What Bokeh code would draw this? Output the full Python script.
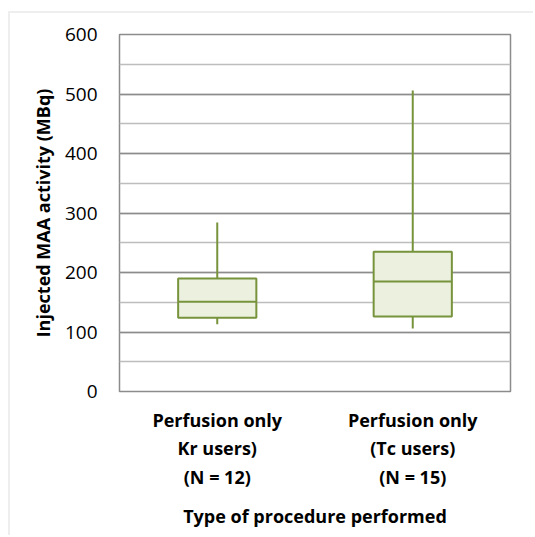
from bokeh.plotting import figure
from bokeh.models import Range1d, FixedTicker, SingleIntervalTicker, ColumnDataSource
from bokeh.transform import dodge
from bokeh.embed import file_html
from bokeh.resources import INLINE

# Data
categories = ["Perfusion only\nKr users)\n(N = 12)", "Perfusion only\n(Tc users)\n(N = 15)"]
positions = [1, 2]
lower = [113, 106]
q1 = [124, 126]
median = [151, 185]
q3 = [190, 235]
upper = [284, 506]

src = ColumnDataSource(dict(x=positions, lower=lower, q1=q1, median=median, q3=q3, upper=upper))

p = figure(width=525, height=524, output_backend="svg", toolbar_location=None,
           x_range=Range1d(0.5, 2.5), y_range=Range1d(0, 600),
           min_border_left=109, min_border_right=25, min_border_top=21, min_border_bottom=146)
p.styles = {"margin-left": "8px", "margin-top": "11px",
            "border-top": "2px solid #eeeeee", "border-left": "2px solid #eeeeee"}

font = "Open Sans"
line_col = "#77933c"
fill_col = "#ebf1de"

p.segment(x0="x", x1="x", y0="lower", y1="upper", source=src, line_color=line_col, line_width=2)
p.vbar(x="x", width=0.40, bottom="q1", top="q3", source=src, fill_color=fill_col,
       line_color=line_col, line_width=2)
p.segment(x0=dodge("x", -0.2), x1=dodge("x", 0.2), y0="median", y1="median", source=src,
          line_color=line_col, line_width=2)

p.outline_line_color = "#8c8c8c"
p.outline_line_width = 1.5

yt = SingleIntervalTicker(interval=100, num_minor_ticks=2)
p.yaxis.ticker = yt
p.ygrid.ticker = yt
p.ygrid.grid_line_color = "#8c8c8c"
p.ygrid.grid_line_width = 1.5
p.ygrid.minor_grid_line_color = "#bdbdbd"
p.ygrid.minor_grid_line_width = 1.5
p.xgrid.grid_line_color = None

p.xaxis.ticker = FixedTicker(ticks=positions)
p.xaxis.major_label_overrides = {pos: lab for pos, lab in zip(positions, categories)}

for ax in (p.xaxis, p.yaxis):
    ax.axis_line_color = None
    ax.major_tick_line_color = None
    ax.minor_tick_line_color = None
    ax.major_label_text_font = font
    ax.axis_label_text_font = font
    ax.axis_label_text_font_style = "bold"
    ax.axis_label_text_font_size = "18px"
    ax.axis_label_text_color = "black"
    ax.major_label_text_color = "black"

p.yaxis.major_label_text_font_size = "19px"
p.yaxis.major_label_standoff = 16
p.yaxis.axis_label = "Injected MAA activity (MBq)"
p.yaxis.axis_label_standoff = 7

p.xaxis.major_label_text_font_size = "18px"
p.xaxis.major_label_text_font_style = "bold"
p.xaxis.major_label_text_line_height = 1.2
p.xaxis.major_label_standoff = 10
p.xaxis.axis_label = "Type of procedure performed"
p.xaxis.axis_label_standoff = 12

open("out.html", "w").write(file_html(p, INLINE))
